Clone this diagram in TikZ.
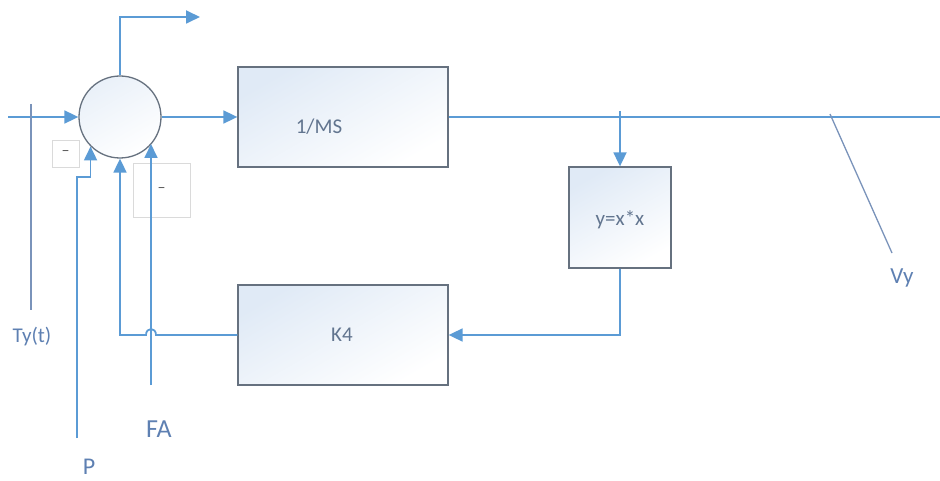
\documentclass[tikz,border=0pt]{standalone}
\usepackage{fontspec}
\setmainfont{Carlito}
\usetikzlibrary{arrows.meta}
\definecolor{lineblue}{HTML}{5B9BD5}
\definecolor{boxedge}{HTML}{66717F}
\definecolor{txtblue}{HTML}{5E80B2}
\definecolor{boxtxt}{HTML}{62758F}
\definecolor{thinline}{HTML}{7A93BA}
\definecolor{fillblue}{HTML}{E0EAF6}
\definecolor{minusedge}{HTML}{DADADA}
\begin{document}
\begin{tikzpicture}[x=1pt,y=-1pt,
  conn/.style={draw=lineblue, line width=1.8pt},
  arr/.style={conn, -{Triangle[length=14pt,width=13pt]}},
  thin/.style={draw=thinline, line width=1.3pt},
  blk/.style={draw=boxedge, line width=1.3pt, top color=fillblue, bottom color=white, shading angle=30, inner sep=0pt},
  sumc/.style={circle, draw=boxedge, line width=1.3pt, top color=fillblue!70, bottom color=white, shading angle=30, minimum size=82pt, inner sep=0pt},
  btxt/.style={text=boxtxt, font=\fontsize{21}{24}\selectfont, inner sep=0pt},
  lbl/.style={text=txtblue, inner sep=0pt},
  minusbox/.style={draw=minusedge, line width=0.8pt, inner sep=0pt},
  mtxt/.style={text=black!65, font=\fontsize{16}{18}\selectfont, inner sep=0pt}
]
\useasboundingbox (0,0) rectangle (940,481);

% minus boxes
\node[minusbox, minimum width=27pt, minimum height=27pt] (m1) at (65.5,153.5) {};
\node[mtxt] (m1t) at (m1.center) {–};
\node[minusbox, minimum width=57pt, minimum height=54pt] (m2) at (161.5,190) {};
\node[mtxt] (m2t) at (m2.center) {–};

% blocks
\node[sumc] (s) at (120,117) {};
\node[blk, minimum width=210pt, minimum height=100pt] (ms) at (343,117) {};
\node[btxt] (mst) at (319,127) {1/MS};
\node[blk, minimum width=102pt, minimum height=101pt] (sq) at (620,217.5) {};
\node[btxt] (sqt) at (620,220) {y=x*x};
\node[blk, minimum width=210pt, minimum height=100pt] (k4) at (343,335) {};
\node[btxt] (k4t) at (342,335) {K4};

% coordinates
\coordinate (in) at (8,117);
\coordinate (topout) at (200,17);
\coordinate (outR) at (940,117);
\coordinate (br) at (620,111);
\coordinate (jr) at (156,335);
\coordinate (jl) at (146,335);
\coordinate (fb) at (120,335);
\coordinate (pbot) at (77,438);
\coordinate (pbend) at (77,177);
\coordinate (fabot) at (151,385);
\coordinate (fatip) at (151,144);
\coordinate (tyt) at (31,104);
\coordinate (tyb) at (31,310);
\coordinate (vyt) at (830,114);
\coordinate (vyb) at (892,253);

% connectors
\draw[arr] (in) -- (s.west);
\draw[arr] (s.north) |- (topout);
\draw[arr] (s.east) -- (ms.west);
\draw[conn] (ms.east) -- (outR);
\draw[arr] (br) -- (sq.north);
\draw[arr] (sq.south) |- (k4.east);
\draw[arr] (k4.west) -- (jr) .. controls (156,327) and (146,327) .. (jl) -- (fb) -- (s.south);
\draw[arr] (pbot) -- (pbend) -| (s.-135);
\draw[arr] (fabot) -- (fatip);
\draw[thin] (tyt) -- (tyb);
\draw[thin] (vyt) -- (vyb);

% labels
\node[lbl, font=\fontsize{21}{24}\selectfont] (ty) at (32,337) {Ty(t)};
\node[lbl, font=\fontsize{24}{27}\selectfont] (p) at (89,467) {P};
\node[lbl, font=\fontsize{26}{29}\selectfont] (fa) at (159,429) {FA};
\node[lbl, font=\fontsize{23}{26}\selectfont] (vy) at (902,278) {Vy};
\end{tikzpicture}
\end{document}
